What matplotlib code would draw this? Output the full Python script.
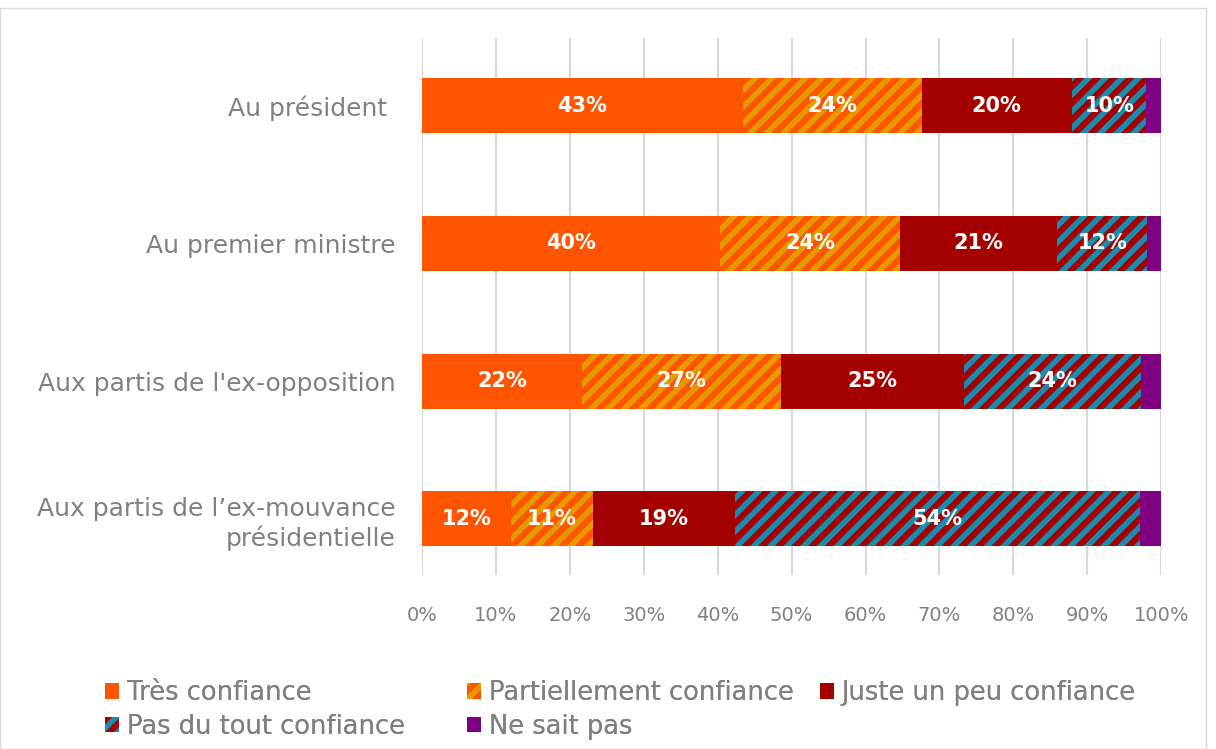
import matplotlib
matplotlib.use("Agg")
import matplotlib.pyplot as plt
from matplotlib.patches import Patch, Rectangle
import numpy as np

plt.rcParams['font.family'] = ['DejaVu Sans']
plt.rcParams['hatch.linewidth'] = 4.0

categories = ["Au président ", "Au premier ministre", "Aux partis de l'ex-opposition",
              "Aux partis de l’ex-mouvance\nprésidentielle"]
series_names = ["Très confiance", "Partiellement confiance", "Juste un peu confiance",
                "Pas du tout confiance", "Ne sait pas"]
tres = [43.4, 40.3, 21.7, 12.0]
partiel = [24.2, 24.4, 26.8, 11.2]
juste = [20.3, 21.2, 24.8, 19.1]
pas_du_tout = [10.1, 12.2, 24.0, 54.8]
nsp = [2.0, 1.9, 2.7, 2.9]
labels = [["43%", "40%", "22%", "12%"],
          ["24%", "24%", "27%", "11%"],
          ["20%", "21%", "25%", "19%"],
          ["10%", "12%", "24%", "54%"],
          [None, None, None, None]]

series = [tres, partiel, juste, pas_du_tout, nsp]
faces = ["#FF5500", "#FF5500", "#A50000", "#A50000", "#7F0080"]
hatch_cols = [None, "#E69A00", None, "#1A8CB0", None]
hatches = [None, "//", None, "//", None]

fig = plt.figure(figsize=(12.16, 7.49), dpi=100)
fig.patches.append(Rectangle((0.0, 0.0), 0.992, 0.989, transform=fig.transFigure,
                             fill=False, edgecolor="#D9D9D9", linewidth=1.0))
ax = fig.add_axes([0.347, 0.232, 0.608, 0.717])

y = np.arange(len(categories))[::-1]
left = np.zeros(len(categories))
handles = []
for i, vals in enumerate(series):
    vals = np.array(vals)
    if hatches[i]:
        bars = ax.barh(y, vals, left=left, height=0.4, color=faces[i],
                       edgecolor=hatch_cols[i], hatch=hatches[i], linewidth=0, zorder=3)
        handles.append(Patch(facecolor=faces[i], edgecolor=hatch_cols[i],
                             hatch="//", linewidth=0, label=series_names[i]))
    else:
        bars = ax.barh(y, vals, left=left, height=0.4, color=faces[i], linewidth=0, zorder=3)
        handles.append(Patch(facecolor=faces[i], linewidth=0, label=series_names[i]))
    for j, b in enumerate(bars):
        if labels[i][j]:
            ax.text(left[j] + vals[j] / 2, y[j], labels[i][j], ha="center", va="center",
                    color="white", fontsize=15, fontweight="bold", zorder=5)
    left += vals

ax.set_xlim(0, 100)
ax.set_ylim(-0.41, 3.49)
ax.set_xticks(np.arange(0, 101, 10))
ax.set_xticklabels([f"{v}%" for v in range(0, 101, 10)])
ax.set_yticks(y)
ax.set_yticklabels(categories, linespacing=1.25)
ax.tick_params(axis="x", length=0, labelsize=14, labelcolor="#808080", pad=22)
ax.tick_params(axis="y", length=0, labelsize=18, labelcolor="#808080", pad=19)
ax.grid(axis="x", color="#D9D9D9", linewidth=1.5, zorder=0)
for s in ax.spines.values():
    s.set_visible(False)

columns = [[0, 3], [1, 4], [2]]
col_x = [0.0865, 0.384, 0.674]
for cx, idxs in zip(col_x, columns):
    lg = fig.legend(handles=[handles[k] for k in idxs], loc="upper left",
                    bbox_to_anchor=(cx, 0.092), frameon=False, fontsize=18.5,
                    labelcolor="#808080", handlelength=0.55, handleheight=0.55,
                    handletextpad=0.3, labelspacing=0.3, borderpad=0, borderaxespad=0)
    fig.add_artist(lg)

fig.savefig("out.png", dpi=100)
